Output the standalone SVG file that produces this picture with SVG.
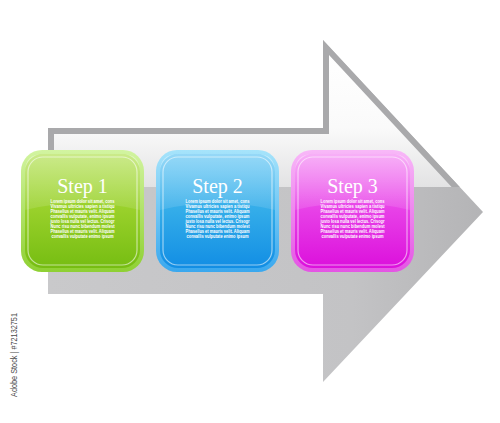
<svg xmlns="http://www.w3.org/2000/svg" width="500" height="423" viewBox="0 0 500 423">
<defs>
<linearGradient id="inner" gradientUnits="userSpaceOnUse" x1="0" y1="54" x2="0" y2="188">
<stop offset="0" stop-color="#ffffff"/>
<stop offset="0.55" stop-color="#fafafa"/>
<stop offset="1" stop-color="#e2e2e3"/>
</linearGradient>
<linearGradient id="lower" gradientUnits="userSpaceOnUse" x1="48" y1="0" x2="483" y2="0">
<stop offset="0" stop-color="#c9c9cb"/>
<stop offset="0.7" stop-color="#c3c3c5"/>
<stop offset="1" stop-color="#b4b4b6"/>
</linearGradient>
<clipPath id="upper"><rect x="0" y="0" width="500" height="187"/></clipPath>
<linearGradient id="gRim" x1="0" y1="0" x2="0" y2="1"><stop offset="0" stop-color="#d2f4a0"/><stop offset="1" stop-color="#8fd033"/></linearGradient>
<linearGradient id="gFill" x1="0" y1="0" x2="0" y2="1"><stop offset="0" stop-color="#a8dc3c"/><stop offset="0.5" stop-color="#98d02a"/><stop offset="1" stop-color="#76bd12"/></linearGradient>
<linearGradient id="bRim" x1="0" y1="0" x2="0" y2="1"><stop offset="0" stop-color="#a6e4fb"/><stop offset="1" stop-color="#3aa8ee"/></linearGradient>
<linearGradient id="bFill" x1="0" y1="0" x2="0" y2="1"><stop offset="0" stop-color="#50bff2"/><stop offset="0.5" stop-color="#33ace9"/><stop offset="1" stop-color="#128ee4"/></linearGradient>
<linearGradient id="mRim" x1="0" y1="0" x2="0" y2="1"><stop offset="0" stop-color="#f8b8f8"/><stop offset="1" stop-color="#e455e4"/></linearGradient>
<linearGradient id="mFill" x1="0" y1="0" x2="0" y2="1"><stop offset="0" stop-color="#f27af2"/><stop offset="0.5" stop-color="#e740e7"/><stop offset="1" stop-color="#dc10dc"/></linearGradient>
<linearGradient id="gloss" x1="0" y1="0" x2="0" y2="1"><stop offset="0" stop-color="#ffffff" stop-opacity="0.4"/><stop offset="1" stop-color="#ffffff" stop-opacity="0.1"/></linearGradient>
</defs>
<style>
.step{font-family:"Liberation Serif",serif;font-size:20px;fill:#ffffff;text-anchor:middle}
.lorem{font-family:"Liberation Sans",Arial,sans-serif;font-size:4.6px;font-weight:bold;fill:#ffffff;text-anchor:middle}
.inline{fill:none;stroke:#ffffff;stroke-opacity:0.55;stroke-width:1.2}
.wm{font-family:"Liberation Sans",Arial,sans-serif;font-size:9px;fill:#4a4a4a}
</style>
<rect width="500" height="423" fill="#ffffff"/>
<g id="arrow">
<polygon points="48,128 323,128 323,40 483,212 323,382 323,294 48,294" fill="url(#lower)"/>
<g clip-path="url(#upper)">
<polygon points="48,128 323,128 323,40 483,212 323,382 323,294 48,294" fill="#a9a9ab"/>
<polygon points="54,134 329,134 329,55 474.8,212 329,368.7 329,289 54,289" fill="url(#inner)"/>
</g>
</g>
<g id="connectors"></g>
<g id="step1">
<rect x="21" y="150" width="123" height="122" rx="21" fill="url(#gRim)"/>
<rect x="25" y="154" width="115" height="114" rx="18" fill="url(#gFill)"/>
<path d="M25,210 Q82,196 140,210 L140,172 Q140,154 122,154 L43,154 Q25,154 25,172 Z" fill="url(#gloss)"/>
<rect x="28" y="157" width="109" height="108" rx="15" class="inline"/>
<text class="step" x="82.5" y="193">Step 1</text>
<g class="lorem">
<text x="82.5" y="203" textLength="64" lengthAdjust="spacingAndGlyphs">Lorem ipsum dolor sit amet, cons</text>
<text x="82.5" y="208" textLength="64" lengthAdjust="spacingAndGlyphs">Vivamus ultricies sapien a tistiqu</text>
<text x="82.5" y="213" textLength="64" lengthAdjust="spacingAndGlyphs">Phasellus et mauris velit. Aliquam</text>
<text x="82.5" y="218" textLength="64" lengthAdjust="spacingAndGlyphs">convallis vulputate, enimo ipsum</text>
<text x="82.5" y="223" textLength="64" lengthAdjust="spacingAndGlyphs">justo losa nulla vel lectus. Crisogr</text>
<text x="82.5" y="228" textLength="64" lengthAdjust="spacingAndGlyphs">Nunc risu nunc bibendum molest</text>
<text x="82.5" y="233" textLength="64" lengthAdjust="spacingAndGlyphs">Phasellus et mauris velit. Aliquam</text>
<text x="82.5" y="238" textLength="62" lengthAdjust="spacingAndGlyphs">convallis vulputate  enimo ipsum</text>
</g>
</g>
<g id="step2">
<rect x="156" y="150" width="123" height="122" rx="21" fill="url(#bRim)"/>
<rect x="160" y="154" width="115" height="114" rx="18" fill="url(#bFill)"/>
<path d="M160,210 Q217,196 275,210 L275,172 Q275,154 257,154 L178,154 Q160,154 160,172 Z" fill="url(#gloss)"/>
<rect x="163" y="157" width="109" height="108" rx="15" class="inline"/>
<text class="step" x="217.5" y="193">Step 2</text>
<g class="lorem">
<text x="217.5" y="203" textLength="64" lengthAdjust="spacingAndGlyphs">Lorem ipsum dolor sit amet, cons</text>
<text x="217.5" y="208" textLength="64" lengthAdjust="spacingAndGlyphs">Vivamus ultricies sapien a tistiqu</text>
<text x="217.5" y="213" textLength="64" lengthAdjust="spacingAndGlyphs">Phasellus et mauris velit. Aliquam</text>
<text x="217.5" y="218" textLength="64" lengthAdjust="spacingAndGlyphs">convallis vulputate, enimo ipsum</text>
<text x="217.5" y="223" textLength="64" lengthAdjust="spacingAndGlyphs">justo losa nulla vel lectus. Crisogr</text>
<text x="217.5" y="228" textLength="64" lengthAdjust="spacingAndGlyphs">Nunc risu nunc bibendum molest</text>
<text x="217.5" y="233" textLength="64" lengthAdjust="spacingAndGlyphs">Phasellus et mauris velit. Aliquam</text>
<text x="217.5" y="238" textLength="62" lengthAdjust="spacingAndGlyphs">convallis vulputate  enimo ipsum</text>
</g>
</g>
<g id="step3">
<rect x="291" y="150" width="123" height="122" rx="21" fill="url(#mRim)"/>
<rect x="295" y="154" width="115" height="114" rx="18" fill="url(#mFill)"/>
<path d="M295,210 Q352,196 410,210 L410,172 Q410,154 392,154 L313,154 Q295,154 295,172 Z" fill="url(#gloss)"/>
<rect x="298" y="157" width="109" height="108" rx="15" class="inline"/>
<text class="step" x="352.5" y="193">Step 3</text>
<g class="lorem">
<text x="352.5" y="203" textLength="64" lengthAdjust="spacingAndGlyphs">Lorem ipsum dolor sit amet, cons</text>
<text x="352.5" y="208" textLength="64" lengthAdjust="spacingAndGlyphs">Vivamus ultricies sapien a tistiqu</text>
<text x="352.5" y="213" textLength="64" lengthAdjust="spacingAndGlyphs">Phasellus et mauris velit. Aliquam</text>
<text x="352.5" y="218" textLength="64" lengthAdjust="spacingAndGlyphs">convallis vulputate, enimo ipsum</text>
<text x="352.5" y="223" textLength="64" lengthAdjust="spacingAndGlyphs">justo losa nulla vel lectus. Crisogr</text>
<text x="352.5" y="228" textLength="64" lengthAdjust="spacingAndGlyphs">Nunc risu nunc bibendum molest</text>
<text x="352.5" y="233" textLength="64" lengthAdjust="spacingAndGlyphs">Phasellus et mauris velit. Aliquam</text>
<text x="352.5" y="238" textLength="62" lengthAdjust="spacingAndGlyphs">convallis vulputate  enimo ipsum</text>
</g>
</g>
<text class="wm" transform="translate(17,397) rotate(-90)" textLength="84" lengthAdjust="spacingAndGlyphs">Adobe Stock | #72132751</text>
</svg>
